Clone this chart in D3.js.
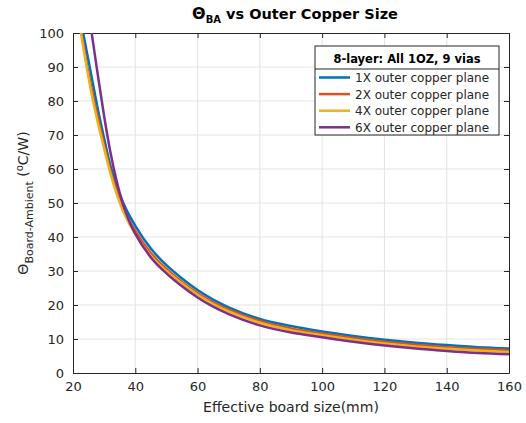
<!DOCTYPE html>
<html>
<head>
<meta charset="utf-8">
<script src="https://cdn.jsdelivr.net/npm/d3@7"></script>
<style>
  body { margin: 0; background: #fff; }
  svg text { font-family: "DejaVu Sans", sans-serif; }
</style>
</head>
<body>
<div id="chart"></div>
<script>
// board size (mm) sample points
var boardSize = [22, 24, 26, 28, 30, 32, 34, 36, 38, 40, 45, 50, 55, 60, 65, 70, 80, 90, 100, 110, 120, 130, 140, 150, 160];
var cu1X = [106, 96.5, 87, 77.5, 69, 61, 55, 50.3, 46.5, 43.3, 36.6, 31.7, 27.8, 24.4, 21.6, 19.3, 15.9, 13.8, 12.2, 10.9, 9.8, 8.9, 8.2, 7.6, 7.2];
var cu2X = [104, 93, 83.5, 75, 67, 59.5, 53.5, 48.8, 45, 41.8, 35.3, 30.6, 26.8, 23.5, 20.8, 18.6, 15.3, 13.1, 11.6, 10.3, 9.2, 8.3, 7.6, 7.1, 6.7];
var cu4X = [103, 92, 82, 73.5, 66, 58.8, 52.7, 47.8, 44, 40.8, 34.5, 30, 26.3, 23, 20.3, 18.1, 14.8, 12.6, 11.1, 9.8, 8.7, 7.8, 7.1, 6.6, 6.2];
var cu6X = [128, 114, 100, 87.5, 75.5, 65, 56.5, 49.8, 44.8, 41, 34, 29.3, 25.5, 22.2, 19.5, 17.3, 14, 11.9, 10.5, 9.2, 8.1, 7.2, 6.5, 5.9, 5.5];
var seriesNames = ["1X outer copper plane", "2X outer copper plane", "4X outer copper plane", "6X outer copper plane"];
var xTicks = [20, 40, 60, 80, 100, 120, 140, 160];
var yTicks = [0, 10, 20, 30, 40, 50, 60, 70, 80, 90, 100];

var w = 526, h = 423;
var m = {top: 33, right: 17, bottom: 50, left: 73};
var colors = ["#0072BD", "#D95319", "#EDB120", "#7E2F8E"];
var allSeries = [cu1X, cu2X, cu4X, cu6X];

var svg = d3.select("#chart").append("svg")
    .attr("width", w)
    .attr("height", h);

var x = d3.scaleLinear().domain([20, 160]).range([m.left, w - m.right]);
var y = d3.scaleLinear().domain([0, 100]).range([h - m.bottom, m.top]);

svg.append("clipPath").attr("id", "plotclip")
  .append("rect")
    .attr("x", m.left).attr("y", m.top)
    .attr("width", w - m.left - m.right)
    .attr("height", h - m.top - m.bottom);

// grid
svg.append("g").selectAll("line").data(xTicks.slice(1, -1)).enter().append("line")
    .attr("x1", d => x(d)).attr("x2", d => x(d))
    .attr("y1", m.top).attr("y2", h - m.bottom)
    .attr("stroke", "#e3e3e3").attr("stroke-width", 1);
svg.append("g").selectAll("line").data(yTicks.slice(1, -1)).enter().append("line")
    .attr("y1", d => y(d)).attr("y2", d => y(d))
    .attr("x1", m.left).attr("x2", w - m.right)
    .attr("stroke", "#e3e3e3").attr("stroke-width", 1);

// axes (box on, ticks inward)
var xAxis = d3.axisBottom(x).tickValues(xTicks).tickSizeInner(-5).tickSizeOuter(0).tickPadding(9);
var yAxis = d3.axisLeft(y).tickValues(yTicks).tickSizeInner(-5).tickSizeOuter(0).tickPadding(9);
var gx = svg.append("g").attr("transform", "translate(0," + (h - m.bottom) + ")").call(xAxis);
var gy = svg.append("g").attr("transform", "translate(" + m.left + ",0)").call(yAxis);
var gx2 = svg.append("g").attr("transform", "translate(0," + m.top + ")")
    .call(d3.axisTop(x).tickValues(xTicks).tickSizeInner(-5).tickSizeOuter(0).tickFormat(""));
var gy2 = svg.append("g").attr("transform", "translate(" + (w - m.right) + ",0)")
    .call(d3.axisRight(y).tickValues(yTicks).tickSizeInner(-5).tickSizeOuter(0).tickFormat(""));
[gx, gy, gx2, gy2].forEach(function(g) {
  g.selectAll("path, line").attr("stroke", "#262626");
  g.selectAll("text").attr("fill", "#262626").style("font-size", "13px");
});

// curves
var line = d3.line()
    .x((d, i) => x(boardSize[i]))
    .y(d => y(d))
    .curve(d3.curveMonotoneX);

svg.append("g").attr("clip-path", "url(#plotclip)")
  .selectAll("path").data(allSeries).enter().append("path")
    .attr("d", line)
    .attr("fill", "none")
    .attr("stroke", (d, i) => colors[i])
    .attr("stroke-width", 2.5);

// title
var title = svg.append("text")
    .attr("x", 295).attr("y", 19)
    .attr("text-anchor", "middle")
    .style("font-size", "14.5px").style("font-weight", "bold")
    .attr("fill", "#000");
title.append("tspan").style("font-size", "16px").text("Θ");
title.append("tspan").attr("dy", 4).style("font-size", "10px").text("BA");
title.append("tspan").attr("dy", -4).text(" vs Outer Copper Size");

// axis labels
svg.append("text")
    .attr("x", x(90)).attr("y", 412)
    .attr("text-anchor", "middle")
    .style("font-size", "14px")
    .attr("fill", "#262626")
    .text("Effective board size(mm)");

var ylab = svg.append("text")
    .attr("transform", "translate(28," + 203 + ") rotate(-90)")
    .attr("text-anchor", "middle")
    .style("font-size", "14px")
    .attr("fill", "#262626");
ylab.append("tspan").text("Θ");
ylab.append("tspan").attr("dy", 5).style("font-size", "11px").text("Board-Ambient");
ylab.append("tspan").attr("dy", -5).text(" (");
ylab.append("tspan").attr("dy", -5).style("font-size", "10px").text("o");
ylab.append("tspan").attr("dy", 5).text("C/W)");

// legend
var lg = svg.append("g").attr("transform", "translate(315,46)");
lg.append("rect")
    .attr("width", 184).attr("height", 89)
    .attr("fill", "#fff").attr("stroke", "#262626").attr("stroke-width", 1);
lg.append("line")
    .attr("x1", 0).attr("x2", 184).attr("y1", 23).attr("y2", 23)
    .attr("stroke", "#262626");
lg.append("text")
    .attr("x", 92).attr("y", 16.5)
    .attr("text-anchor", "middle")
    .style("font-size", "11.5px").style("font-weight", "bold")
    .attr("fill", "#000")
    .text("8-layer: All 1OZ, 9 vias");
var items = lg.selectAll(".item").data(seriesNames).enter().append("g")
    .attr("class", "item")
    .attr("transform", (d, i) => "translate(0," + (31.5 + i * 16.6) + ")");
items.append("line")
    .attr("x1", 4).attr("x2", 35)
    .attr("stroke", (d, i) => colors[i]).attr("stroke-width", 2.5);
items.append("text")
    .attr("x", 40).attr("y", 4.5)
    .style("font-size", "12px")
    .attr("fill", "#262626")
    .text(d => d);
</script>
</body>
</html>
